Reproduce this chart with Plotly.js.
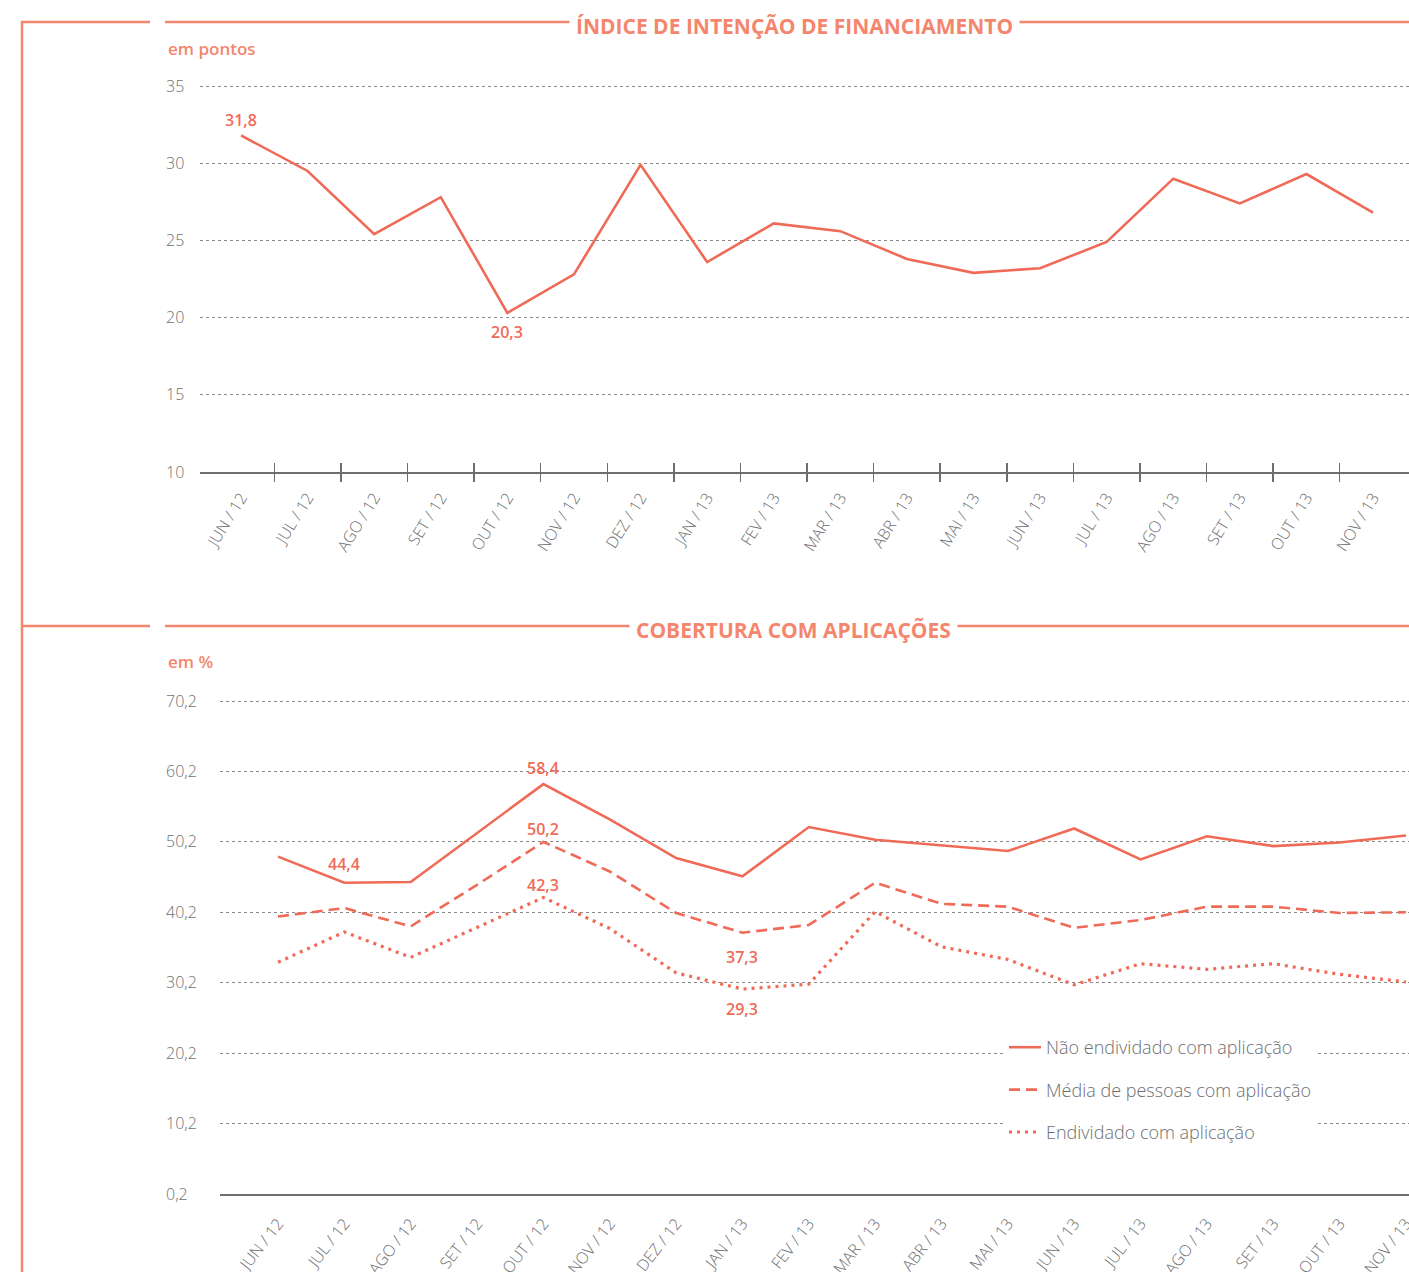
<!DOCTYPE html>
<html>
<head>
<meta charset="utf-8">
<script src="https://cdn.plot.ly/plotly-3.0.1.min.js"></script>
<style>html,body{margin:0;padding:0;background:#fff;}#chart{width:1409px;height:1272px;}</style>
</head>
<body>
<div id="chart"></div>
<script>
// ---- data ----
var months = ['JUN / 12','JUL / 12','AGO / 12','SET / 12','OUT / 12','NOV / 12','DEZ / 12','JAN / 13','FEV / 13','MAR / 13','ABR / 13','MAI / 13','JUN / 13','JUL / 13','AGO / 13','SET / 13','OUT / 13','NOV / 13'];
var indiceFinanciamento = [31.8, 29.5, 25.4, 27.8, 20.3, 22.8, 29.9, 23.6, 26.1, 25.6, 23.8, 22.9, 23.2, 24.9, 29.0, 27.4, 29.3, 26.8];
var naoEndividado = [48.1, 44.4, 44.5, 51.5, 58.4, 53.4, 47.9, 45.3, 52.3, 50.5, 49.7, 48.9, 52.1, 47.7, 51.0, 49.6, 50.1, 51.1];
var mediaPessoas = [39.6, 40.8, 38.2, 44.1, 50.2, 46.0, 40.1, 37.3, 38.4, 44.4, 41.4, 41.0, 38.0, 39.1, 41.0, 41.0, 40.1, 40.2];
var endividado = [33.1, 37.4, 33.8, 38.1, 42.3, 37.9, 31.6, 29.3, 30.0, 40.3, 35.3, 33.5, 29.9, 32.9, 32.1, 32.9, 31.4, 30.3];
var seriesNames = ['Não endividado com aplicação', 'Média de pessoas com aplicação', 'Endividado com aplicação'];
var titleTop = 'ÍNDICE DE INTENÇÃO DE FINANCIAMENTO';
var titleBottom = 'COBERTURA COM APLICAÇÕES';
var unitTop = 'em pontos';
var unitBottom = 'em %';
var topTicks = [10, 15, 20, 25, 30, 35];
var bottomTicks = [0.2, 10.2, 20.2, 30.2, 40.2, 50.2, 60.2, 70.2];
// which points carry a value label: [seriesKey, monthIndex, above(1)/below(-1)]
var labelled = [['top',0,1],['top',4,-1],['nao',1,1],['nao',4,1],['media',4,1],['end',4,1],['media',7,-1],['end',7,-1]];

// ---- style ----
var W = 1409, H = 1272;
var salmon = '#f4866e', lineCol = '#f06a58', gray = '#6d6e71';
var FONT = 'Open Sans, sans-serif';
function px(x){return x/W;}
function py(y){return 1 - y/H;}

var seriesMap = {top: indiceFinanciamento, nao: naoEndividado, media: mediaPessoas, end: endividado};
var axisMap = {top: ['x','y'], nao: ['x2','y2'], media: ['x2','y2'], end: ['x2','y2']};

var traces = [
  {x: months, y: indiceFinanciamento, xaxis:'x', yaxis:'y', type:'scatter', mode:'lines', showlegend:false,
   line:{color:lineCol, width:2.6}, hoverinfo:'skip'},
  {x: months, y: naoEndividado, xaxis:'x2', yaxis:'y2', type:'scatter', mode:'lines', name: seriesNames[0], legendgroup:'a',
   line:{color:lineCol, width:2.6}},
  {x: months, y: mediaPessoas, xaxis:'x2', yaxis:'y2', type:'scatter', mode:'lines', name: seriesNames[1], legendgroup:'b',
   line:{color:lineCol, width:2.6, dash:'11px,6px'}},
  {x: months, y: endividado, xaxis:'x2', yaxis:'y2', type:'scatter', mode:'lines', name: seriesNames[2], legendgroup:'c',
   line:{color:lineCol, width:3.2, dash:'3px,5px'}},
  // empty carriers so that the tick-mark overlay axes are drawn
  {x: [], y: [], xaxis:'x3', yaxis:'y', type:'scatter', mode:'lines', showlegend:false},
  {x: [], y: [], xaxis:'x4', yaxis:'y', type:'scatter', mode:'lines', showlegend:false}
];

var boundaries = [];
for (var i = 0; i < months.length - 1; i++) boundaries.push(i + 0.5);

var topRange = [(200-241)/66.59, (W-241)/66.59];
var botRange = [(220-278)/66.35, (W-278)/66.35];

var fmt = function(v){ return v.toFixed(1).replace('.', ','); };
var annotations = labelled.map(function(l){
  var v = seriesMap[l[0]][l[1]];
  var ax = axisMap[l[0]];
  var shift;
  if (l[0]==='top') shift = l[2]>0 ? 15 : -19;
  else if (l[0]==='end' && l[2]<0) shift = -20;
  else if (l[2]<0) shift = -24;
  else shift = l[0]==='nao' && l[1]===1 ? 19 : (l[0]==='nao' ? 16 : 13);
  return {x: months[l[1]], y: v, xref: ax[0], yref: ax[1], text: fmt(v), showarrow:false, yshift: shift,
          xanchor:'center', yanchor:'middle',
          font:{family:FONT, size:16, color:lineCol, weight:600}};
});
annotations.push(
  {x: px(795), y: py(26), xref:'paper', yref:'paper', text: titleTop, showarrow:false, bgcolor:'#fff', borderpad:6,
   xanchor:'center', yanchor:'middle', font:{family:FONT, size:21, color:salmon, weight:700}},
  {x: px(793), y: py(630), xref:'paper', yref:'paper', text: titleBottom, showarrow:false, bgcolor:'#fff', borderpad:6,
   xanchor:'center', yanchor:'middle', font:{family:FONT, size:21, color:salmon, weight:700}},
  {x: px(166), y: py(49), xref:'paper', yref:'paper', text: unitTop, showarrow:false, xanchor:'left', yanchor:'middle',
   font:{family:FONT, size:17, color:salmon, weight:600}},
  {x: px(166), y: py(661), xref:'paper', yref:'paper', text: unitBottom, showarrow:false, xanchor:'left', yanchor:'middle',
   font:{family:FONT, size:17, color:salmon, weight:600}}
);

var frame = {color: salmon, width: 2.5};
var shapes = [
  {type:'line', xref:'paper', yref:'paper', x0:px(22), x1:px(22), y0:py(21), y1:0, line:frame},
  {type:'line', xref:'paper', yref:'paper', x0:px(21), x1:px(150), y0:py(22), y1:py(22), line:frame},
  {type:'line', xref:'paper', yref:'paper', x0:px(165), x1:1, y0:py(22), y1:py(22), line:frame},
  {type:'line', xref:'paper', yref:'paper', x0:px(21), x1:px(150), y0:py(626), y1:py(626), line:frame},
  {type:'line', xref:'paper', yref:'paper', x0:px(165), x1:1, y0:py(626), y1:py(626), line:frame}
];

var tickFont = {family:FONT, size:16, color:gray, weight:300};
var yTickFont = {family:FONT, size:16, color:gray, weight:300};
var layout = {
  width: W, height: H,
  margin: {l:0, r:0, t:0, b:0},
  paper_bgcolor:'#fff', plot_bgcolor:'rgba(0,0,0,0)',
  separators: ',.',
  showlegend: true,
  hovermode: false,
  xaxis: {domain:[px(200),1], anchor:'y', type:'category', range: topRange, showgrid:false, zeroline:false,
          showline:true, linecolor:gray, linewidth:2, ticks:'', tickangle:-58, tickfont: tickFont, ticklabelstandoff: 8},
  xaxis3: {domain:[px(200),1], anchor:'y', overlaying:'x', type:'linear', range: topRange, tickvals: boundaries,
           ticks:'outside', ticklen:9, tickwidth:1.5, tickcolor:gray, showticklabels:false, showgrid:false, zeroline:false, showline:false},
  xaxis4: {domain:[px(200),1], anchor:'y', overlaying:'x', type:'linear', range: topRange, tickvals: boundaries,
           ticks:'inside', ticklen:9, tickwidth:1.5, tickcolor:gray, showticklabels:false, showgrid:false, zeroline:false, showline:false},
  yaxis: {domain:[py(472), py(84.5)], anchor:'free', position: px(165), side:'right', range:[10,35.1], tickvals: topTicks,
          showgrid:true, gridcolor:'#8a8a8a', griddash:'dot', gridwidth:1, zeroline:false, showline:false, ticks:'',
          tickfont: yTickFont},
  xaxis2: {domain:[px(220),1], anchor:'y2', type:'category', range: botRange, showgrid:false, zeroline:false,
           showline:true, linecolor:gray, linewidth:2, ticks:'', tickangle:-52, tickfont: tickFont, ticklabelstandoff: 12},
  yaxis2: {domain:[py(1194), py(699.6)], anchor:'free', position: px(165), side:'right', range:[0.2,70.4], tickvals: bottomTicks,
           tickformat:'.1f', showgrid:true, gridcolor:'#8a8a8a', griddash:'dot', gridwidth:1, zeroline:false, showline:false, ticks:'',
           tickfont: yTickFont},
  legend: {x: px(1004), y: py(1029), xanchor:'left', yanchor:'top', bgcolor:'#fff', borderwidth:0,
           font:{family:FONT, size:18, color:gray, weight:300}, traceorder:'grouped', tracegroupgap: 16, itemwidth: 32},
  annotations: annotations,
  shapes: shapes
};

Plotly.newPlot('chart', traces, layout, {displayModeBar:false, staticPlot:true});
</script>
</body>
</html>
